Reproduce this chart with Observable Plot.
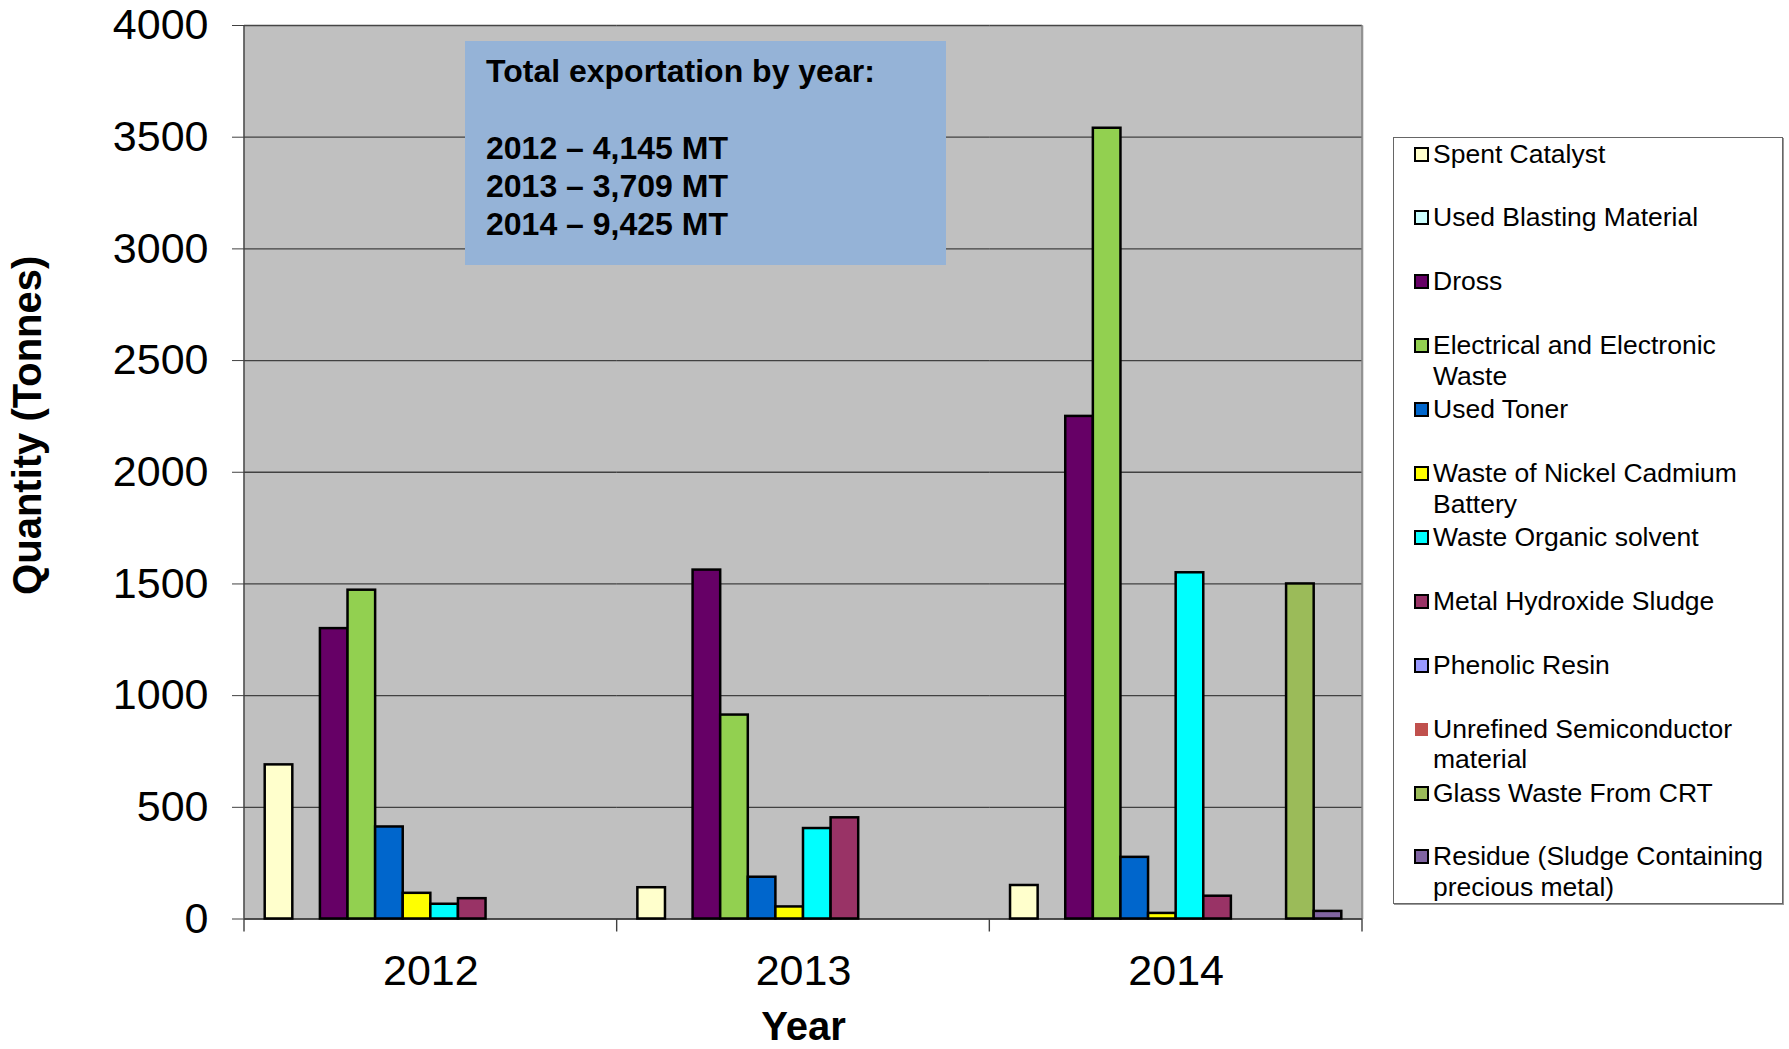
<!DOCTYPE html>
<html>
<head>
<meta charset="utf-8">
<script src="https://cdn.jsdelivr.net/npm/d3@7"></script>
<script src="https://cdn.jsdelivr.net/npm/@observablehq/plot@0.6"></script>
<style>
html, body { margin: 0; padding: 0; background: #fff; overflow: hidden; }
#wrap { position: relative; width: 1789px; height: 1049px; font-family: "Liberation Sans", Arial, sans-serif; color: #000; }
#wrap svg { position: absolute; left: 0; top: 0; }
g[aria-label="y-axis tick label"], g[aria-label="fx-axis tick label"] { font-size: 43px; }
g[aria-label="y-axis label"], g[aria-label="fx-axis label"] { font-size: 40px; font-weight: bold; }
.note { position: absolute; left: 465px; top: 41px; width: 481px; height: 224px; background: #95b3d7;
  box-sizing: border-box; padding: 11px 0 0 21px; font-weight: bold; font-size: 32px; line-height: 38.3px; }
.legend { position: absolute; left: 1393px; top: 137px; width: 390px; height: 767px; box-sizing: border-box;
  border: 1px solid #666; box-shadow: 1px 1px 0 #999; padding-top: 0.6px; background: #fff; }
.item { height: 63.9px; position: relative; }
.sw { position: absolute; left: 20px; top: 8px; width: 15px; height: 15px; box-sizing: border-box; border: 2px solid #000; }
.sw.plain { border: none; width: 13px; height: 13px; top: 9px; left: 21px; }
.lab { position: absolute; left: 39px; top: 0; width: 346px; font-size: 26.5px; line-height: 30.8px; }
</style>
</head>
<body>
<div id="wrap"></div>
<script>
// ---- data ----
const years = ["2012", "2013", "2014"];
const series = [
  "Spent Catalyst",
  "Used Blasting Material",
  "Dross",
  "Electrical and Electronic Waste",
  "Used Toner",
  "Waste of Nickel Cadmium Battery",
  "Waste Organic solvent",
  "Metal Hydroxide Sludge",
  "Phenolic Resin",
  "Unrefined Semiconductor material",
  "Glass Waste From CRT",
  "Residue (Sludge Containing precious metal)"
];
const colors = ["#ffffcc", "#ccffff", "#660066", "#92d050", "#0066cc", "#ffff00",
                "#00ffff", "#993366", "#9999ff", "#c0504d", "#9bbb59", "#8064a2"];
const noOutline = ["Unrefined Semiconductor material"];
const v2012 = [690, 0, 1300, 1472, 412, 115, 66, 91, 0, 0, 0, 0];
const v2013 = [140, 0, 1562, 913, 187, 54, 405, 453, 0, 0, 0, 0];
const v2014 = [150, 0, 2250, 3540, 276, 25, 1550, 102, 0, 0, 1500, 34];
const yTicks = [0, 500, 1000, 1500, 2000, 2500, 3000, 3500, 4000];
const totals = ["4,145", "3,709", "9,425"];
const noteTitle = "Total exportation by year:";
const yLabel = "Quantity (Tonnes)";
const xLabel = "Year";

// ---- table ----
const rows = [];
[v2012, v2013, v2014].forEach((vals, i) => vals.forEach((v, j) => {
  if (v > 0) rows.push({year: years[i], series: series[j], value: v});
}));

const chart = Plot.plot({
  width: 1789,
  height: 1049,
  marginLeft: 244,
  marginRight: 427,
  marginTop: 25,
  marginBottom: 130.5,
  style: {fontFamily: '"Liberation Sans", Arial, sans-serif', background: "transparent", color: "#000"},
  fx: {domain: years, padding: 0, round: false},
  x: {domain: series, paddingInner: 0, paddingOuter: 0.75, round: false, axis: null},
  y: {domain: [0, 4000]},
  color: {domain: series, range: colors},
  marks: [
    Plot.frame({fill: "#c0c0c0", stroke: "none", insetLeft: -1, insetRight: -1}),
    Plot.gridY(yTicks, {stroke: "#2a2a2a", strokeOpacity: 0.85, strokeWidth: 1.3}),
    Plot.ruleY([0], {stroke: "#404040", strokeWidth: 1.5}),
    Plot.barY(rows, {fx: "year", x: "series", y: "value", fill: "series", stroke: "#000", strokeWidth: 2.5}),
    Plot.axisY(yTicks, {tickSize: 12, tickPadding: 24, stroke: "#404040", tickFormat: d3.format("d"),
      label: yLabel, labelArrow: false, labelAnchor: "center", labelOffset: 232}),
    Plot.axisFx({anchor: "bottom", tickSize: 0, tickPadding: 35, label: xLabel, labelArrow: false,
      labelAnchor: "center", labelOffset: 121})
  ]
});

// the y title sits above the middle of the plot in the reference
const yl = chart.querySelector('g[aria-label="y-axis label"]');
if (yl) yl.setAttribute("transform", ((yl.getAttribute("transform") || "") + " translate(0,-47)").trim());

// axis line, right border and category boundary ticks from the library's scales
const fxS = chart.scale("fx"), yS = chart.scale("y");
const ys = d3.scaleLinear(yS.domain, yS.range);
const fb = d3.scaleBand(fxS.domain, fxS.range).padding(0);
const pos = d => (fxS.apply ? fxS.apply(d) : fb(d));
const bw = fxS.bandwidth != null ? fxS.bandwidth : fb.bandwidth();
const edges = years.map(pos).concat([pos(years[years.length - 1]) + bw]);
const g = d3.select(chart).append("g").attr("stroke-width", 1.4);
g.append("line").attr("stroke", "#404040")
  .attr("x1", edges[0]).attr("x2", edges[0]).attr("y1", ys(yTicks[yTicks.length - 1])).attr("y2", ys(0));
g.append("line").attr("stroke", "#808080")
  .attr("x1", edges[edges.length - 1]).attr("x2", edges[edges.length - 1])
  .attr("y1", ys(yTicks[yTicks.length - 1])).attr("y2", ys(0));
edges.forEach(x => {
  g.append("line").attr("stroke", "#404040").attr("x1", x).attr("x2", x).attr("y1", ys(0)).attr("y2", ys(0) + 13);
});

const wrap = document.getElementById("wrap");
wrap.appendChild(chart);

// annotation box
const note = document.createElement("div");
note.className = "note";
note.innerHTML = `<div>${noteTitle}</div><div>&nbsp;</div>` +
  years.map((y, i) => `<div>${y} \u2013 ${totals[i]} MT</div>`).join("");
wrap.appendChild(note);

// legend
const legend = document.createElement("div");
legend.className = "legend";
series.forEach((s, i) => {
  const item = document.createElement("div");
  item.className = "item";
  const sw = document.createElement("div");
  sw.className = "sw" + (noOutline.includes(s) ? " plain" : "");
  sw.style.background = colors[i];
  const lab = document.createElement("div");
  lab.className = "lab";
  lab.textContent = s;
  item.appendChild(sw);
  item.appendChild(lab);
  legend.appendChild(item);
});
wrap.appendChild(legend);
</script>
</body>
</html>
